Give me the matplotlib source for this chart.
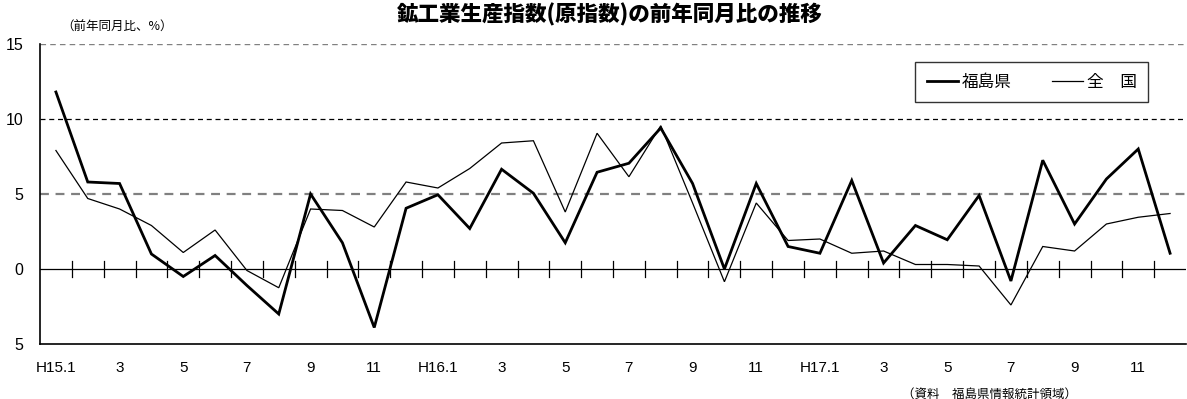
import matplotlib
matplotlib.use("Agg")
from matplotlib import pyplot as plt
import numpy as np

# months H15.1 .. H17.12
months = ['H15.1', '2', '3', '4', '5', '6', '7', '8', '9', '10', '11', '12',
          'H16.1', '2', '3', '4', '5', '6', '7', '8', '9', '10', '11', '12',
          'H17.1', '2', '3', '4', '5', '6', '7', '8', '9', '10', '11', '12']
fukushima = [11.8, 5.8, 5.7, 1.0, -0.5, 0.9, -1.1, -3.0, 5.0, 1.75, -3.9, 4.05,
             4.95, 2.7, 6.65, 5.05, 1.75, 6.45, 7.05, 9.4, 5.7, 0.0, 5.7, 1.5,
             1.05, 5.9, 0.4, 2.9, 1.95, 4.9, -0.8, 7.25, 3.0, 6.0, 8.0, 1.05]
zenkoku = [7.9, 4.7, 4.0, 2.9, 1.1, 2.6, -0.1, -1.25, 4.0, 3.9, 2.8, 5.8,
           5.4, 6.7, 8.4, 8.55, 3.8, 9.05, 6.15, 9.55, 4.4, -0.85, 4.4, 1.9,
           2.0, 1.05, 1.2, 0.3, 0.3, 0.2, -2.4, 1.5, 1.2, 3.0, 3.45, 3.7]
yticks = [15, 10, 5, 0, -5]
ytick_labels = ['15', '10', '5', '0', '5']

JP = ['Noto Sans CJK JP', 'DejaVu Sans']
NUM = ['Liberation Sans', 'DejaVu Sans']

fig = plt.figure(figsize=(11.87, 3.99), dpi=100)
ax = fig.add_axes([40/1187, 55/399, 1146/1187, 300/399])

x = np.arange(len(months))
ax.plot(x, fukushima, color='black', lw=2.0, label='福島県', solid_joinstyle='miter')
ax.plot(x, zenkoku, color='black', lw=0.9, label='全　国', solid_joinstyle='miter')

ax.set_xlim(-0.5, len(months) - 0.5)
ax.set_ylim(-5, 15)

# grid lines
ax.axhline(15, color='#808080', lw=1.0, ls=(0, (4, 3)), zorder=0)
ax.axhline(10, color='black', lw=0.9, ls=(0, (4, 3)), zorder=0)
ax.axhline(5, color='#808080', lw=1.6, ls=(0, (4, 3)), zorder=0)
ax.axhline(0, color='black', lw=0.9, zorder=1)
# tick marks crossing the zero line at month boundaries
for b in np.arange(0.5, len(months) - 0.5, 1.0):
    ax.plot([b, b], [-0.55, 0.55], color='black', lw=0.9, zorder=1)

ax.spines['top'].set_visible(False)
ax.spines['right'].set_visible(False)
ax.spines['left'].set_linewidth(1.2)
ax.spines['bottom'].set_linewidth(1.2)

ax.set_yticks(yticks)
ax.set_yticklabels(ytick_labels, family=NUM, fontsize=11.5)
ax.tick_params(axis='y', length=0, pad=12)

lab_idx = [i for i in range(len(months)) if i % 2 == 0]
ax.set_xticks(lab_idx)
ax.set_xticklabels([months[i] for i in lab_idx], family=NUM, fontsize=11)
ax.tick_params(axis='x', length=0, pad=12)

leg = ax.legend(loc='upper right', bbox_to_anchor=(0.967, 0.94),
                ncol=2, frameon=True, fancybox=False, edgecolor='black',
                prop={'family': JP, 'size': 12}, handlelength=1.9,
                columnspacing=2.4, borderpad=0.7, handletextpad=0.2,
                borderaxespad=0)
leg.get_frame().set_linewidth(1.0)

fig.text(0.514, 0.962, '鉱工業生産指数(原指数)の前年同月比の推移', ha='center', va='center',
         family=JP, fontsize=15.5, fontweight='heavy')
fig.text(0.052, 0.932, '（前年同月比、%）', ha='left', va='center', family=JP, fontsize=9)
fig.text(0.907, 0.012, '（資料　福島県情報統計領域）', ha='right', va='center', family=JP, fontsize=9)

fig.savefig('out.png', dpi=100)
